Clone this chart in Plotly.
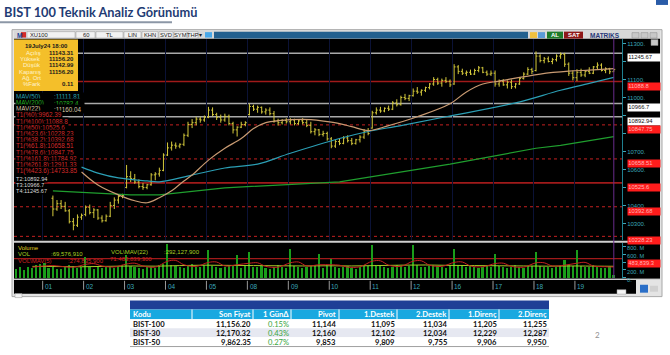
import plotly.graph_objects as go

W, H = 670, 355
def px(x): return x / W
def py(y): return 1 - y / H

# ---------------- data ----------------
bar_idx = list(range(9, 147))
opens = [10440,10380,10410,10395,10370,10310,10290,10335,
         10350,10390,10360,10375,10330,10315,10340,10400,10430,10450,
         10500,10560,10550,10530,10505,10500,10515,10570,10575,10595,
         10680,10720,10735,10730,10740,10790,10850,10860,10880,10875,
         10890,10930,10905,10890,10875,10895,10855,10820,10835,10850,
         10905,10950,10935,10945,10920,10930,10910,10870,10860,10872,
         10865,10875,10855,10870,10860,10845,10810,10820,10795,10800,
         10770,10730,10755,10745,10775,10760,10745,10765,10780,10810,
         10830,10915,10930,10925,10940,10935,10970,10960,11000,10995,
         11010,11035,11030,11040,11055,11075,11100,11080,11095,11090,
         11075,11170,11145,11135,11140,11130,11150,11165,11140,11130,
         11135,11075,11090,11070,11085,11060,11075,11105,11130,11155,
         11150,11230,11205,11215,11200,11210,11230,11240,11185,11135,
         11110,11140,11125,11145,11135,11170,11180,11150,11160,11143.31]
highs = [10455,10430,10430,10420,10380,10330,10350,10355,
         10400,10405,10385,10380,10345,10350,10420,10445,10460,10465,
         10625,10590,10575,10545,10525,10520,10580,10585,10610,10690,
         10750,10755,10750,10745,10800,10865,10880,10893,10893,10900,
         10948,10945,10915,10905,10910,10905,10865,10840,10865,10868,
         10965,10960,10955,10950,10940,10945,10925,10882,10880,10885,
         10885,10882,10880,10885,10875,10865,10830,10825,10815,10810,
         10780,10765,10770,10785,10790,10775,10770,10790,10825,10830,
         10926,10945,10948,10945,10955,10980,10990,11010,11020,11015,
         11050,11058,11045,11060,11080,11113,11110,11105,11113,11100,
         11185,11180,11160,11150,11155,11160,11175,11170,11150,11150,
         11150,11100,11102,11095,11100,11080,11110,11140,11168,11165,
         11256,11240,11225,11228,11220,11240,11250,11248,11195,11150,
         11157,11160,11150,11168,11175,11195,11190,11168,11165,11156.20]
lows = [10340,10370,10380,10365,10300,10262,10280,10320,
        10340,10350,10330,10320,10305,10310,10335,10380,10410,10440,
        10495,10530,10520,10495,10487,10490,10510,10540,10560,10590,
        10675,10705,10715,10718,10730,10780,10830,10845,10860,10865,
        10885,10895,10875,10860,10865,10845,10800,10783,10830,10840,
        10900,10925,10915,10910,10905,10900,10860,10844,10850,10855,
        10850,10845,10848,10850,10835,10800,10790,10785,10783,10760,
        10718,10720,10735,10740,10750,10735,10738,10750,10770,10790,
        10827,10905,10915,10918,10925,10930,10950,10955,10985,10980,
        11005,11020,11010,11030,11045,11065,11070,11060,11080,11058,
        11070,11130,11125,11120,11125,11125,11140,11135,11120,11120,
        11060,11060,11065,11050,11047,11050,11070,11100,11125,11130,
        11145,11195,11190,11195,11185,11200,11215,11170,11120,11095,
        11091,11115,11113,11130,11130,11155,11145,11135,11130,11142.99]
closes = [10380,10410,10395,10370,10310,10290,10335,10345,
          10390,10360,10375,10330,10315,10340,10400,10430,10450,10455,
          10560,10550,10530,10505,10500,10515,10570,10575,10595,10680,
          10720,10735,10730,10740,10790,10850,10860,10880,10875,10890,
          10930,10905,10890,10875,10895,10855,10820,10835,10850,10860,
          10950,10935,10945,10920,10930,10910,10870,10860,10872,10865,
          10875,10855,10870,10860,10845,10810,10820,10795,10800,10770,
          10730,10755,10745,10775,10760,10745,10765,10780,10810,10800,
          10915,10930,10925,10940,10935,10970,10960,11000,10995,11010,
          11035,11030,11040,11055,11075,11100,11080,11095,11090,11070,
          11170,11145,11135,11140,11130,11150,11165,11140,11130,11135,
          11075,11090,11070,11085,11060,11075,11105,11130,11155,11145,
          11230,11205,11215,11200,11210,11230,11240,11185,11135,11110,
          11140,11125,11145,11135,11170,11180,11150,11160,11143,11156.20]

ma22_idx = [16,20,25,29,32,35,38,41,43,47,51,55,58,61,64,72,76,79,82,86,91,98,106,110,114,118,128,135,140,146]
ma22_val = [10586,10514,10459,10426,10415,10443,10481,10536,10569,10652,10718,10772,10827,10860,10871,
            10877,10866,10855,10838,10816,10844,10893,10965,11031,11075,11091,11130,11146,11152,11160.04]
ma50_idx = [16,20,25,32,35,43,51,59,67,79,86,94,105,122,133,140,146]
ma50_val = [10613,10580,10553,10536,10531,10569,10608,10630,10690,10772,10811,10844,10893,10970,11040,11078,11111.81]
ma200_idx = [9,20,28,35,51,79,106,127,133,146]
ma200_val = [10481,10470,10459,10459,10498,10531,10630,10718,10734,10782.4]

vol_idx = list(range(0, 147))
volume_m = [230,260,200,280,240,310,350,
            380,250,290,230,210,260,330,300,240,270,
            520,260,230,280,250,300,270,240,290,330,
            560,300,270,250,230,260,280,240,310,350,
            850,320,290,260,240,300,340,280,260,310,
            700,300,270,250,280,330,300,560,240,290,
            650,280,260,300,250,230,270,310,260,240,
            720,290,260,240,270,300,330,600,250,320,
            480,260,240,280,300,250,230,270,310,290,
            820,330,300,270,250,280,320,290,260,300,
            820,310,280,260,300,330,290,270,250,310,
            720,320,290,270,300,260,240,280,310,270,
            600,300,270,250,280,310,260,240,300,290,
            650,300,280,260,240,270,300,450,320,290,
            700,300,280,260,310,270,250,240,290,69.58]
volma5_idx = [4,7,9,11,14,17,19,21,24,27,29,31,34,37,39,41,44,47,49,51,54,57,59,61,64,67,69,71,74,77,79,81,84,
              87,89,91,94,97,99,101,104,107,109,111,114,117,119,121,124,127,129,131,134,137,139,141,144,146]
volma5_val = [270,300,310,290,270,340,360,300,275,350,370,300,270,420,440,330,290,390,400,300,330,370,380,290,270,
              380,400,300,330,330,320,270,280,420,430,320,290,420,430,320,290,390,400,300,280,360,370,290,270,
              380,380,300,320,370,390,300,280,274.8]
volma22_idx = [4,10,16,22,28,34,40,46,52,58,64,70,76,82,88,94,100,106,112,118,124,130,136,142,146]
volma22_val = [290,285,280,290,300,295,310,320,315,310,305,300,305,300,310,320,325,315,310,305,300,295,300,295,292.1]
vol_ref_level = 483.8393

day_labels = ["01","02","03","04","05","08","09","10","11","12","16","17","18","19"]
day_start = [7,17,27,37,47,57,67,77,87,97,107,117,127,137]

price_ticks = [10300,10400,10500,10600,10700,10800,10900,11000,11100,11200,11300]
price_tick_text = ["10300.","10400.","","10600.","10700.","","","11000.","11100.","","11300."]
vol_ticks = [0,200,400,600,800]
vol_tick_text = ["0.","200. M","","600. M","800. M"]

gray_levels = [11245.67, 10966.7, 10892.94]
red_solid_levels = [11088.8, 10525.6]
red_dot_levels = [10847.75, 10658.51, 10392.68, 10228.23]
box_white = [("11245.67", 11245.67), ("10966.7", 10966.7), ("10892.94", 10892.94)]
box_red = [("11088.8", 11088.8), ("10847.75", 10847.75), ("10658.51", 10658.51),
           ("10525.6", 10525.6), ("10392.68", 10392.68), ("10228.23", 10228.23)]

mav_rows = [("MAV(50)", ":11111.81", "#2aa3b5"), ("MAV(200)", ":10782.4", "#22b022"), ("MAV(22)", ":11160.04", "#d8c8a8")]
t1_rows = ["T1(%0):9962.39","T1(%100):11088.8","T1(%50):10525.6","T1(%23.6):10228.23","T1(%38.2):10392.68",
           "T1(%61.8):10658.51","T1(%78.6):10847.75","T1(%161.8):11784.92","T1(%261.8):12911.33","T1(%423.6):14733.85"]
t_rows = ["T2:10892.94","T3:10966.7","T4:11245.67"]

info_date = "19July24 18:00"
info_labels = ["Açılış","Yüksek","Düşük","Kapanış","Ağ. Ort","%Fark"]
info_values = ["11143.31","11156.20","11142.99","11156.20","","0.11"]

table_cols = ["Kodu","Son Fiyat","1 GünΔ","Pivot","1.Destek","2.Destek","1.Direnç","2.Direnç"]
kodu = ["BIST-100","BIST-30","BIST-50"]
son_fiyat = ["11,156.20","12,170.32","9,862.35"]
gun = ["0.15%","0.43%","0.27%"]
pivot = ["11,144","12,160","9,853"]
destek1 = ["11,095","12,102","9,809"]
destek2 = ["11,034","12,034","9,755"]
direnc1 = ["11,205","12,229","9,906"]
direnc2 = ["11,255","12,287","9,950"]

# ---------------- figure ----------------
YEL = "#d4c93c"
TEAL = "#3aa6b8"
SMALL = "Liberation Sans"
fig = go.Figure()

fig.add_trace(go.Ohlc(x=bar_idx, open=opens, high=highs, low=lows, close=closes,
                      increasing=dict(line=dict(color=YEL, width=1)),
                      decreasing=dict(line=dict(color=YEL, width=1)),
                      tickwidth=0.35, hoverinfo="skip", showlegend=False))
fig.add_trace(go.Scatter(x=ma200_idx, y=ma200_val, mode="lines", line=dict(color="#1f9e2e", width=1.2),
                         hoverinfo="skip", showlegend=False))
fig.add_trace(go.Scatter(x=ma50_idx, y=ma50_val, mode="lines", line=dict(color="#2b9fb5", width=1.2, shape="spline"),
                         hoverinfo="skip", showlegend=False))
fig.add_trace(go.Scatter(x=ma22_idx, y=ma22_val, mode="lines", line=dict(color="#c89a72", width=1.2, shape="spline"),
                         hoverinfo="skip", showlegend=False))
fig.add_trace(go.Bar(x=vol_idx, y=volume_m, width=0.4, marker=dict(color="#1a9e1a", line=dict(width=0)),
                     xaxis="x2", yaxis="y2", hoverinfo="skip", showlegend=False))
fig.add_trace(go.Scatter(x=volma22_idx, y=volma22_val, mode="lines", line=dict(color="#a8c828", width=1, shape="spline"),
                         xaxis="x2", yaxis="y2", hoverinfo="skip", showlegend=False))
fig.add_trace(go.Scatter(x=volma5_idx, y=volma5_val, mode="lines", line=dict(color="#c42020", width=1, shape="spline"),
                         xaxis="x2", yaxis="y2", hoverinfo="skip", showlegend=False))

shapes = []
def rect(x0, y0, x1, y1, fill, line=None, lw=0, layer="below"):
    shapes.append(dict(type="rect", xref="paper", yref="paper", x0=px(x0), x1=px(x1), y0=py(y1), y1=py(y0),
                       fillcolor=fill, line=dict(color=line or fill, width=lw), layer=layer))
def hline_paper(x0, x1, y, color, w=1, layer="below"):
    shapes.append(dict(type="line", xref="paper", yref="paper", x0=px(x0), x1=px(x1), y0=py(y), y1=py(y),
                       line=dict(color=color, width=w), layer=layer))

# screenshot frame
rect(12, 30, 662, 300, "#e4e4e4", "#a8a8a8", 1)
rect(14, 39, 660, 282, "#000000")
rect(14, 283, 636, 297, "#000000")
hline_paper(14, 660, 244.5, "#cfcfcf", 2)
hline_paper(14, 660, 282.5, "#cfcfcf", 1)
# toolbar
rect(14, 31, 660, 39, "#d8d8d8")
rect(214, 32, 528, 39, "#23608f")
tool_boxes = [(27, 75, "XU100"), (76, 95, "60"), (96, 123, "TL"), (124, 141, "LIN"), (142, 158, "KHN"),
              (159, 173, "SVD"), (174, 187, "SYM"), (188, 198, "THP")]
for x0, x1, _ in tool_boxes:
    rect(x0, 32, x1, 38.5, "#f2f2f2", "#9a9a9a", 0.5)
rect(21, 32.5, 26, 38, "#d42a2a")
rect(205, 32.5, 212, 38, "#4aa8e8")
rect(530, 32.5, 537, 38.5, "#f0c040")
rect(538, 32.5, 545, 38.5, "#5a9ad8")
rect(547, 32, 563, 39, "#1e7b2a")
rect(564, 32, 583, 39, "#8e1818")
for bx in (632, 641, 650):
    rect(bx, 33, bx + 7, 38.5, "#c8c8c8", "#8a8a8a", 0.5)
rect(651, 40, 658, 46, "#c8c8c8", "#8a8a8a", 0.5)
# bottom-right controls
rect(640, 288, 648, 296, "#2a6fc8")
rect(650, 289, 658, 295, "#d0d0d0")
rect(617, 293, 626, 297.5, "#f4f4f4", "#9a9a9a", 0.5)
rect(15, 297, 22, 301, "#f4f4f4", "#9a9a9a", 0.5)

# price levels
for v in gray_levels:
    shapes.append(dict(type="line", xref="x", yref="y", x0=-0.5, x1=148, y0=v, y1=v,
                       line=dict(color="#a9a9a9", width=1.6), layer="below"))
for v in red_solid_levels:
    shapes.append(dict(type="line", xref="x", yref="y", x0=-0.5, x1=148, y0=v, y1=v,
                       line=dict(color="#a01a1a", width=1.6), layer="below"))
for v in red_dot_levels:
    shapes.append(dict(type="line", xref="x", yref="y", x0=-0.5, x1=148, y0=v, y1=v,
                       line=dict(color="#c42020", width=1, dash="dot"), layer="below"))
shapes.append(dict(type="line", xref="x2", yref="y2", x0=-0.5, x1=148, y0=vol_ref_level, y1=vol_ref_level,
                   line=dict(color="#a01a1a", width=1.2), layer="below"))
# cursor line
shapes.append(dict(type="line", xref="x", yref="paper", x0=146, x1=146, y0=py(282), y1=py(39),
                   line=dict(color="#6a2c8c", width=1), layer="above"))
# date ticks
for d in day_start:
    shapes.append(dict(type="line", xref="x2", yref="paper", x0=d - 0.5, x1=d - 0.5, y0=py(293), y1=py(284),
                       line=dict(color="#9a9a9a", width=1), layer="above"))
# info box
rect(14, 40, 78, 92, "#f4bf2a", layer="above")

# slide header + table backgrounds
rect(0, 21.5, 172, 23.5, "#8c97a6")
rect(656, 0, 668, 5, "#2a5ca8")
col_edges = [130, 192, 253, 291, 339, 397, 449, 499, 549]
rect(130, 304, 549, 313, "#1f3f96")
rect(130, 313, 549, 323, "#19a8e0")
rect(130, 323, 549, 332, "#ffffff")
rect(130, 332, 549, 341, "#e6e8f1")
rect(130, 341, 549, 350, "#ffffff")
hline_paper(130, 549, 350.5, "#a0a0a0", 1)
for e in col_edges[1:-1]:
    shapes.append(dict(type="line", xref="paper", yref="paper", x0=px(e), x1=px(e), y0=py(323), y1=py(313),
                       line=dict(color="#ffffff", width=1), layer="below"))

annotations = []
def ann(x, y, text, size=6.3, color="white", xanchor="left", yanchor="middle", family=SMALL,
        bg=None, xref="paper", yref="paper", width=None, align="left", pad=0):
    d = dict(x=px(x) if xref == "paper" else x, y=py(y) if yref == "paper" else y,
             xref=xref, yref=yref, text=text, showarrow=False, xanchor=xanchor, yanchor=yanchor,
             font=dict(size=size, color=color, family=family), align=align, borderpad=pad)
    if bg:
        d["bgcolor"] = bg
    if width:
        d["width"] = width
    annotations.append(d)

# title
ann(3, 12, "<b>BIST 100 Teknik Analiz Görünümü</b>", size=12.8, color="#1f3c74", family="Lato")
# toolbar text
ann(15.5, 35.5, "<b>M</b>", size=6.5, color="#1a3f96")
for x0, x1, t in tool_boxes:
    ann(x0 + 2 if t == "XU100" else (x0 + x1) / 2, 35.5, t, size=5.8, color="#202020",
        xanchor="left" if t == "XU100" else "center")
ann(200.5, 35.5, "▾", size=6, color="#202020", xanchor="center")
ann(555, 35.5, "<b>AL</b>", size=6, color="#ffffff", xanchor="center")
ann(573.5, 35.5, "<b>SAT</b>", size=6, color="#ffffff", xanchor="center")
ann(605, 35.5, "<b>MATRIKS</b>", size=6.5, color="#283878", xanchor="center")

# info box text
ann(46, 46.7, "<b>" + info_date + "</b>", size=6, color="#1a1a1a", xanchor="center")
info_y = [53.3, 59.7, 66, 72.7, 79, 85.3]
for yy, lab, val in zip(info_y, info_labels, info_values):
    ann(42, yy, lab, size=6, color="#fff3cc", xanchor="right")
    if val:
        ann(75, yy, "<b>" + val + "</b>", size=6, color="#1a1a1a", xanchor="right")

# left labels
row_y = 98
for name, val, col in mav_rows:
    ann(15, row_y, name, size=6.3, color=col, bg="#000000", width=68)
    ann(53, row_y, val, size=6.3, color=col)
    row_y += 6.2
for t in t1_rows:
    ann(15, row_y, t, size=6.3, color="#d42a2a", bg="#000000")
    row_y += 6.3
row_y += 1.2
for t in t_rows:
    ann(15, row_y, t, size=5.6, color="#d8d8d8", bg="#000000")
    row_y += 6.0

# right value boxes
for t, v in box_white:
    ann(627, v, t, size=5.8, color="#101010", bg="#ffffff", yanchor="top", yref="y", width=31, pad=0.3)
for t, v in box_red:
    ann(627, v, t, size=5.8, color="#ffb4b4", bg="#ff1c1c", yanchor="top", yref="y", width=31, pad=0.3)
ann(627, vol_ref_level, "483,839.3", size=5.8, color="#ffb4b4", bg="#ff1c1c", yanchor="top", yref="y2", width=31, pad=0.3)

# volume labels
ann(17, 251, "Volume", size=6, color="#e0d020")
ann(17, 257, "VOL", size=6, color="#a8d020")
ann(50, 257, ":69,576,910", size=6, color="#a8d020")
ann(17, 264, "VOL\\MAV(5)", size=6, color="#d02020")
ann(67, 264, ":274,835,900", size=6, color="#d02020")
ann(109, 261.5, "71:483,839,300", size=6, color="#d02020")
ann(110, 255, "VOL\\MAV(22)", size=6, color="#a8d020")
ann(163, 255, ":292,127,900", size=6, color="#a8d020")

# date labels
for d, lab in zip(day_start, day_labels):
    ann(d - 0.2, 290, lab, size=6.5, color=TEAL, xref="x2")

# table text
header_y, rows_y = 318, [327.5, 336.5, 345.5]
for i, c in enumerate(table_cols):
    if i == 0:
        ann(col_edges[0] + 2, header_y, "<b>" + c + "</b>", size=7.6, color="#ffffff", family="Lato")
    else:
        ann(col_edges[i + 1] - 1.5, header_y, "<b>" + c + "</b>", size=7.6, color="#ffffff", family="Lato", xanchor="right")
table_data = [kodu, son_fiyat, gun, pivot, destek1, destek2, direnc1, direnc2]
for i, col in enumerate(table_data):
    for r, txt in enumerate(col):
        if i == 0:
            ann(col_edges[0] + 2, rows_y[r], "<b>" + txt + "</b>", size=7.6, color="#111111", family="Lato")
        elif i == 2:
            ann(col_edges[i + 1] - 1.5, rows_y[r], txt, size=7.6, color="#3aa640", family="Lato", xanchor="right")
        else:
            ann(col_edges[i + 1] - 1.5, rows_y[r], "<b>" + txt + "</b>", size=7.6, color="#111111", family="Lato", xanchor="right")
ann(597, 339, "2", size=8, color="#909090", family="Lato", xanchor="center")

fig.update_layout(
    width=W, height=H, margin=dict(l=0, r=0, t=0, b=0),
    paper_bgcolor="#ffffff", plot_bgcolor="#000000",
    shapes=shapes, annotations=annotations, showlegend=False, bargap=0,
    xaxis=dict(domain=[px(14), px(622)], range=[-0.5, 148], rangeslider=dict(visible=False),
               showticklabels=False, tickvals=[d - 0.5 for d in day_start], showgrid=True,
               gridcolor="#0b1236", gridwidth=1, zeroline=False, showline=False, ticks="", fixedrange=True),
    yaxis=dict(domain=[py(243), py(39)], range=[10206.5, 11327.5], side="right",
               tickvals=price_ticks, ticktext=price_tick_text,
               tickfont=dict(size=6, color=TEAL, family=SMALL), ticks="outside", ticklen=3,
               tickcolor=TEAL, showline=True, linecolor="#1f8090", showgrid=False, zeroline=False, fixedrange=True),
    xaxis2=dict(domain=[px(14), px(622)], range=[-0.5, 148], anchor="y2", showticklabels=False,
                showgrid=False, zeroline=False, ticks="", fixedrange=True),
    yaxis2=dict(domain=[py(282), py(246)], range=[-25, 875], anchor="x2", side="right",
                tickvals=vol_ticks, ticktext=vol_tick_text, ticklabelshift=2,
                tickfont=dict(size=5.6, color=TEAL, family=SMALL), ticks="outside", ticklen=3,
                tickcolor=TEAL, showline=True, linecolor="#1f8090", showgrid=False, zeroline=False, fixedrange=True),
)

fig.write_html("out.html")
